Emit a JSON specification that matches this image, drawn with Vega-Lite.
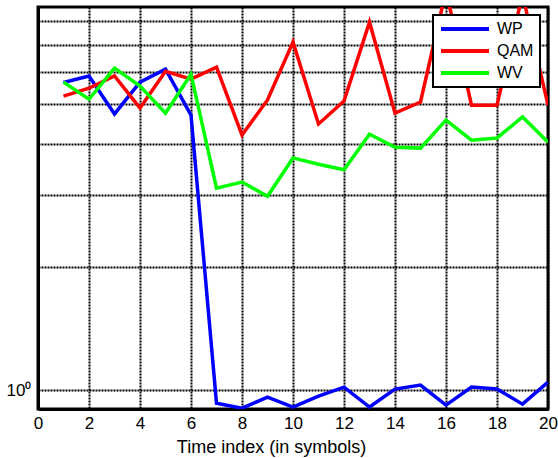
{
  "$schema": "https://vega.github.io/schema/vega-lite/v6.json",
  "width": 510,
  "height": 402,
  "autosize": {"type": "none"},
  "padding": {"left": 38, "top": 7, "right": 10, "bottom": 49},
  "background": "white",
  "config": {
    "font": "Liberation Sans",
    "view": {"stroke": "black", "strokeWidth": 3}
  },
  "data": {
    "values": [
      {"t": 1, "s": "WP", "v": 5.66}, {"t": 2, "s": "WP", "v": 5.87}, {"t": 3, "s": "WP", "v": 4.74}, {"t": 4, "s": "WP", "v": 5.67}, {"t": 5, "s": "WP", "v": 6.10},
      {"t": 6, "s": "WP", "v": 4.71}, {"t": 7, "s": "WP", "v": 0.929}, {"t": 8, "s": "WP", "v": 0.903}, {"t": 9, "s": "WP", "v": 0.961}, {"t": 10, "s": "WP", "v": 0.909},
      {"t": 11, "s": "WP", "v": 0.967}, {"t": 12, "s": "WP", "v": 1.017}, {"t": 13, "s": "WP", "v": 0.909}, {"t": 14, "s": "WP", "v": 1.006}, {"t": 15, "s": "WP", "v": 1.029},
      {"t": 16, "s": "WP", "v": 0.919}, {"t": 17, "s": "WP", "v": 1.017}, {"t": 18, "s": "WP", "v": 1.006}, {"t": 19, "s": "WP", "v": 0.924}, {"t": 20, "s": "WP", "v": 1.046},
      {"t": 1, "s": "QAM", "v": 5.24}, {"t": 2, "s": "QAM", "v": 5.48}, {"t": 3, "s": "QAM", "v": 5.87}, {"t": 4, "s": "QAM", "v": 4.90}, {"t": 5, "s": "QAM", "v": 6.03},
      {"t": 6, "s": "QAM", "v": 5.77}, {"t": 7, "s": "QAM", "v": 6.17}, {"t": 8, "s": "QAM", "v": 4.21}, {"t": 9, "s": "QAM", "v": 5.13}, {"t": 10, "s": "QAM", "v": 7.11},
      {"t": 11, "s": "QAM", "v": 4.48}, {"t": 12, "s": "QAM", "v": 5.10}, {"t": 13, "s": "QAM", "v": 7.95}, {"t": 14, "s": "QAM", "v": 4.76}, {"t": 15, "s": "QAM", "v": 5.07},
      {"t": 16, "s": "QAM", "v": 9.5}, {"t": 17, "s": "QAM", "v": 4.98}, {"t": 18, "s": "QAM", "v": 4.98}, {"t": 19, "s": "QAM", "v": 9.3}, {"t": 20, "s": "QAM", "v": 4.98},
      {"t": 1, "s": "WV", "v": 5.67}, {"t": 2, "s": "WV", "v": 5.15}, {"t": 3, "s": "WV", "v": 6.14}, {"t": 4, "s": "WV", "v": 5.55}, {"t": 5, "s": "WV", "v": 4.76},
      {"t": 6, "s": "WV", "v": 5.93}, {"t": 7, "s": "WV", "v": 3.12}, {"t": 8, "s": "WV", "v": 3.23}, {"t": 9, "s": "WV", "v": 2.98}, {"t": 10, "s": "WV", "v": 3.70},
      {"t": 11, "s": "WV", "v": 3.57}, {"t": 12, "s": "WV", "v": 3.46}, {"t": 13, "s": "WV", "v": 4.23}, {"t": 14, "s": "WV", "v": 3.93}, {"t": 15, "s": "WV", "v": 3.91},
      {"t": 16, "s": "WV", "v": 4.58}, {"t": 17, "s": "WV", "v": 4.09}, {"t": 18, "s": "WV", "v": 4.14}, {"t": 19, "s": "WV", "v": 4.66}, {"t": 20, "s": "WV", "v": 4.04}
    ]
  },
  "mark": {"type": "line", "strokeWidth": 3.5, "clip": true},
  "encoding": {
    "x": {
      "field": "t", "type": "quantitative",
      "scale": {"domain": [0, 20], "nice": false, "zero": false},
      "axis": {
        "values": [0, 2, 4, 6, 8, 10, 12, 14, 16, 18, 20],
        "title": "Time index (in symbols)",
        "titleFontSize": 18, "titleFontWeight": "normal", "titleColor": "black", "titlePadding": 7,
        "titleX": 233, "titleAlign": "center",
        "labelFontSize": 17, "labelColor": "black", "labelPadding": 6, "labelFlush": false,
        "ticks": false, "domainColor": "black", "domainWidth": 3,
        "grid": true, "gridColor": "black", "gridDash": [2, 1], "gridWidth": 2, "gridOpacity": 1
      }
    },
    "y": {
      "field": "v", "type": "quantitative",
      "scale": {"type": "log", "domain": [0.899, 8.66], "nice": false, "zero": false},
      "axis": {
        "values": [1, 2, 3, 4, 5, 6, 7, 8],
        "labelExpr": "datum.value == 1 ? '10⁰' : ''",
        "title": null,
        "labelFontSize": 17, "labelColor": "black", "labelPadding": 7,
        "ticks": false, "domainColor": "black", "domainWidth": 3,
        "grid": true, "gridColor": "black", "gridDash": [2, 1], "gridWidth": 2, "gridOpacity": 1
      }
    },
    "color": {
      "field": "s", "type": "nominal",
      "sort": ["WP", "QAM", "WV"],
      "scale": {"domain": ["WP", "QAM", "WV"], "range": ["#0000ff", "#ff0000", "#00ff00"]},
      "legend": {
        "title": null,
        "orient": "none",
        "legendX": 395,
        "legendY": 8,
        "fillColor": "white",
        "strokeColor": "black",
        "padding": 6,
        "symbolType": "M-1,0H7",
        "symbolStrokeWidth": 4,
        "symbolSize": 144,
        "labelFontSize": 16,
        "labelColor": "black",
        "labelOffset": 42,
        "rowPadding": 6,
        "encode": {"legend": {"update": {"strokeWidth": {"value": 2}}}}
      }
    }
  }
}
